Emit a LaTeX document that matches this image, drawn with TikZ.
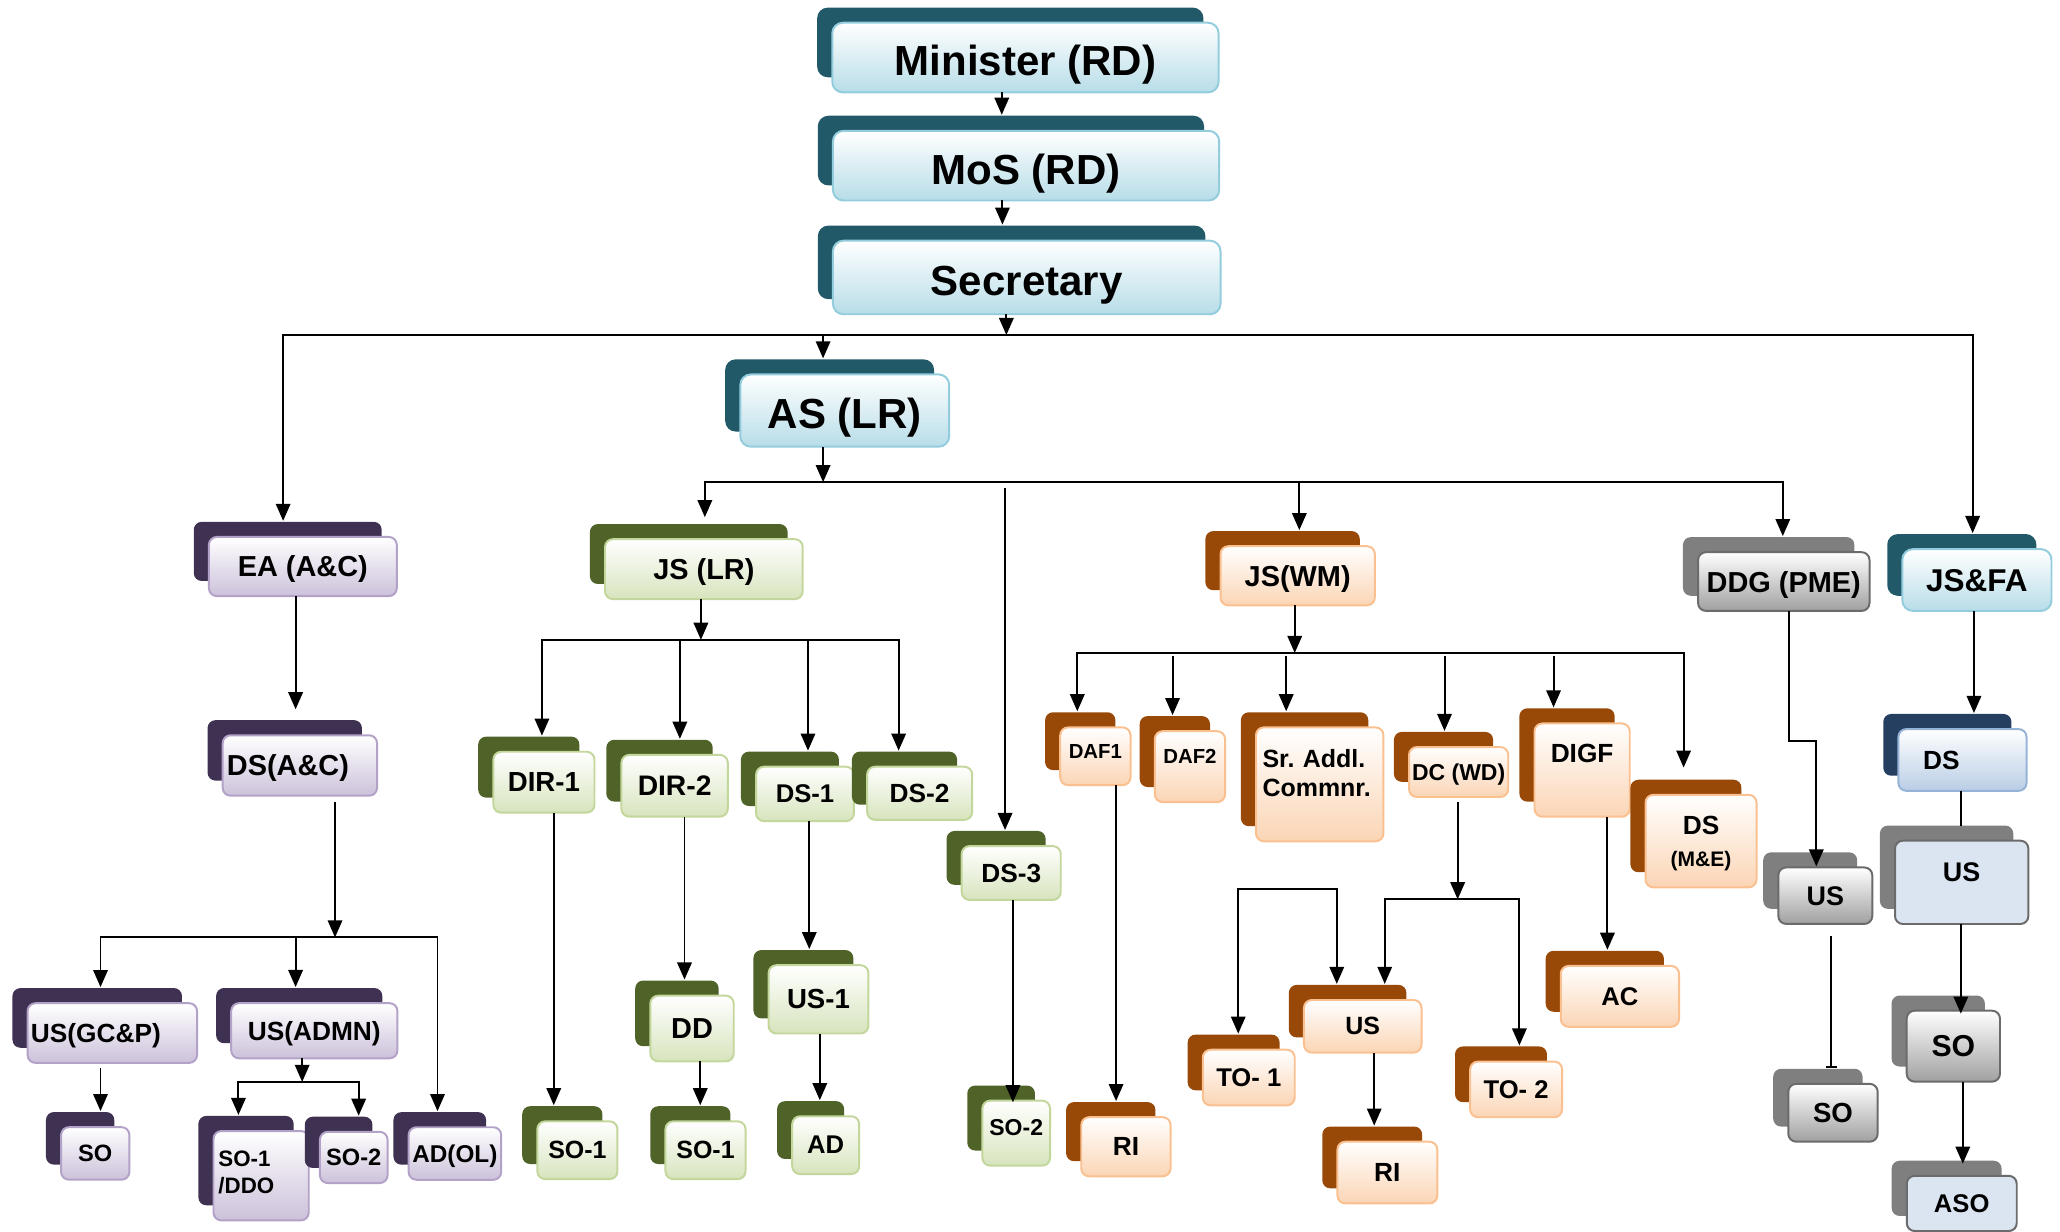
\documentclass[tikz,border=0pt]{standalone}
\usepackage{fontspec}
\setmainfont{Liberation Sans}
\usepackage{tikz}
\usetikzlibrary{arrows.meta,shadows}
\definecolor{tealback}{HTML}{215968}
\definecolor{tealfill}{HTML}{B7DDE8}
\definecolor{tealline}{HTML}{93CDDD}
\definecolor{purpback}{HTML}{3F3151}
\definecolor{purpfill}{HTML}{CCC1DA}
\definecolor{purpline}{HTML}{B3A2C7}
\definecolor{grnback}{HTML}{4F6228}
\definecolor{grnfill}{HTML}{D7E4BD}
\definecolor{grnline}{HTML}{C3D69B}
\definecolor{orgback}{HTML}{984807}
\definecolor{orgfill}{HTML}{FBD5B5}
\definecolor{orgline}{HTML}{FAC090}
\definecolor{gryback}{HTML}{7F7F7F}
\definecolor{gryfill}{HTML}{A0A0A0}
\definecolor{gryline}{HTML}{6B6B6B}
\definecolor{navyback}{HTML}{243F60}
\definecolor{navyfill}{HTML}{B9CDE5}
\definecolor{navyline}{HTML}{95B3D7}
\definecolor{palefill}{HTML}{DBE5F1}
\tikzstyle{cardbox} = [rounded corners=6pt,line width=1.5pt,inner sep=1pt,align=center,text depth=0pt]
\tikzstyle{tealbox} = [cardbox,rounded corners=8pt,draw=tealline,top color=white,bottom color=tealfill,copy shadow={shadow xshift=-11.5pt,shadow yshift=11.5pt,fill=tealback,draw=none}]
\tikzstyle{purpbox} = [cardbox,draw=purpline,top color=white,bottom color=purpfill,copy shadow={shadow xshift=-11.5pt,shadow yshift=11.5pt,fill=purpback,draw=none}]
\tikzstyle{grnbox} = [cardbox,draw=grnline,top color=white,bottom color=grnfill,copy shadow={shadow xshift=-11.5pt,shadow yshift=11.5pt,fill=grnback,draw=none}]
\tikzstyle{orgbox} = [cardbox,draw=orgline,top color=white,bottom color=orgfill,copy shadow={shadow xshift=-11.5pt,shadow yshift=11.5pt,fill=orgback,draw=none}]
\tikzstyle{grybox} = [cardbox,draw=gryline,top color=white,bottom color=gryfill,copy shadow={shadow xshift=-11.5pt,shadow yshift=11.5pt,fill=gryback,draw=none}]
\tikzstyle{navybox} = [cardbox,draw=navyline,top color=white,bottom color=navyfill,copy shadow={shadow xshift=-11.5pt,shadow yshift=11.5pt,fill=navyback,draw=none}]
\tikzstyle{palebox} = [cardbox,draw=gryline,fill=palefill,copy shadow={shadow xshift=-11.5pt,shadow yshift=11.5pt,fill=gryback,draw=none}]
\begin{document}
\begin{tikzpicture}[x=1pt,y=-1pt,
    fs/.style={font=\bfseries\fontsize{#1}{#1}\selectfont},
    sz/.style 2 args={minimum width=#1pt,minimum height=#2pt},
    wire/.style={line width=1.5pt,line cap=rect},
    arr/.style={wire,-{Triangle[length=13pt,width=11pt]}},
    post/.style={arr,shorten >=11.5pt}]
    \useasboundingbox (0,0) rectangle (1568,937.75);

    \node[tealbox,fs=32,sz={294}{53},text height=28pt] (min) at (780.5,43.8) {Minister (RD)};
    \node[tealbox,fs=32,sz={294}{53},text height=28pt] (mos) at (781,126.1) {MoS (RD)};
    \node[tealbox,fs=32,sz={295}{56},text height=28pt] (sec) at (781.5,211.2) {Secretary};
    \node[tealbox,fs=32,sz={159}{55},text height=28pt] (as) at (643,312.5) {AS (LR)};

    \node[purpbox,fs=22,sz={143}{45}] (ea) at (230.5,431.2) {EA (A\&C)};
    \node[grnbox,fs=22,sz={150.5}{45.6}] (jslr) at (535.75,433.2) {JS (LR)};
    \node[orgbox,fs=22,sz={117.5}{45}] (jswm) at (987.75,438.25) {JS(WM)};
    \node[grybox,fs=22,sz={130.5}{44.7},inner xsep=0pt] (ddg) at (1357.75,442.65) {DDG (PME)};
    \node[tealbox,fs=24,sz={113.5}{47}] (jsfa) at (1504.75,441.5) {JS\&FA};

    \node[purpbox,fs=22,sz={117.5}{46},text width=111pt,align=left] (dsac) at (228.25,582.65) {DS(A\&C)};
    \node[purpbox,fs=20,sz={129}{45.4},text width=124pt,align=left] (usgcp) at (85.5,786.3) {US(GC\&P)};
    \node[purpbox,fs=20,sz={126.5}{42}] (usadmn) at (239.25,784.55) {US(ADMN)};
    \node[purpbox,fs=18,sz={52}{40}] (soa) at (72.5,877.95) {SO};
    \node[purpbox,fs=17,sz={72.5}{68},text width=65pt,align=left,text depth=26.5pt] (soddo) at (198.75,894.9) {SO-1\\[4pt]/DDO};
    \node[purpbox,fs=18,sz={51.5}{39},inner xsep=0pt] (sob) at (269.25,881) {SO-2};
    \node[purpbox,fs=18.5,sz={70.5}{40},inner xsep=0pt] (adol) at (346.25,878) {AD(OL)};

    \node[grnbox,fs=21,sz={77}{46.4}] (dir1) at (414,595.4) {DIR-1};
    \node[grnbox,fs=21.5,sz={81}{47}] (dir2) at (513.5,598.1) {DIR-2};
    \node[grnbox,fs=19.5,sz={74.5}{41.4}] (ds1) at (612.75,604.3) {DS-1};
    \node[grnbox,fs=20,sz={80}{40.4}] (ds2) at (700,603.8) {DS-2};
    \node[grnbox,fs=20,sz={75.4}{41}] (ds3) at (769.7,664.5) {DS-3};
    \node[grnbox,fs=22,sz={63.5}{50}] (dd) at (526.75,782.85) {DD};
    \node[grnbox,fs=21,sz={76}{52}] (us1) at (623,760.65) {US-1};
    \node[grnbox,fs=19,sz={61}{44}] (so1a) at (439.5,875.5) {SO-1};
    \node[grnbox,fs=19,sz={61}{44}] (so1b) at (537,875.5) {SO-1};
    \node[grnbox,fs=19.5,sz={51}{44}] (ad) at (628.5,871.65) {AD};
    \node[grnbox,fs=17.5,sz={51.5}{49.5},inner xsep=0pt,text depth=8pt] (so2) at (773.5,862.5) {SO-2};

    \node[orgbox,fs=15.5,sz={53.5}{44},inner xsep=0pt,text depth=7pt] (daf1) at (833.75,575.65) {DAF1};
    \node[orgbox,fs=15.5,sz={53.5}{54},inner xsep=0pt,text depth=15.5pt] (daf2) at (905.75,583.55) {DAF2};
    \node[orgbox,fs=19,sz={97}{86.7},text width=87pt,align=left,text depth=40pt] (sradl) at (1004.5,597) {Sr.\ Addl.\\[3pt]Commnr.};
    \node[orgbox,fs=17.5,sz={75.5}{38},inner xsep=0pt] (dcwd) at (1110.25,587.6) {DC (WD)};
    \node[orgbox,fs=20,sz={72.5}{71},text depth=25pt] (digf) at (1204.25,586.15) {DIGF};
    \node[orgbox,fs=20,sz={84.5}{70.4}] (dsme) at (1294.75,640.2) {DS\\[4pt]{\fontsize{16}{16}\selectfont(M\&E)}};
    \node[orgbox,fs=20,sz={68}{45}] (ria) at (857,872.85) {RI};
    \node[orgbox,fs=19,sz={89.5}{40}] (usw) at (1037.25,781.15) {US};
    \node[orgbox,fs=19.5,sz={70}{42.4}] (to1) at (950.5,820.2) {TO- 1};
    \node[orgbox,fs=19.5,sz={70}{42.4}] (to2) at (1154,829.2) {TO- 2};
    \node[orgbox,fs=20,sz={76}{47}] (rib) at (1056,892.5) {RI};
    \node[orgbox,fs=19.5,sz={90}{46.4}] (ac) at (1233,758.4) {AC};

    \node[grybox,fs=20.5,sz={71.5}{43}] (usg) at (1389.35,681.75) {US};
    \node[grybox,fs=21,sz={68}{44}] (sog1) at (1395.2,847) {SO};
    \node[navybox,fs=20,sz={97.5}{47},text width=60pt,align=left] (dsn) at (1493.75,578.45) {DS};
    \node[palebox,fs=20.5,sz={101.5}{63.4},text depth=16pt] (usb) at (1493.15,671.6) {US};
    \node[grybox,fs=23,sz={71}{54}] (sog2) at (1486.8,796.3) {SO};
    \node[palebox,fs=19.5,sz={83.7}{42}] (aso) at (1493.2,916) {ASO};

    \coordinate (s0) at (766,255);
    \coordinate (sL) at (215.5,255);
    \coordinate (sA) at (626.5,255);
    \coordinate (sR) at (1501.5,255);
    \draw[post] ([xshift=-18pt]min.south) -- ([xshift=-18.5pt]mos.north);
    \draw[post] ([xshift=-18pt]mos.south) -- ([xshift=-18.5pt]sec.north);
    \draw[arr] (sec.south -| s0) -- (s0);
    \draw[wire] (sL) -- (sR);
    \draw[post] (sL) -- (sL |- ea.north);
    \draw[post] (sA) -- (sA |- as.north);
    \draw[post] (sR) -- (sR |- jsfa.north);

    \coordinate (a0) at (626.5,367);
    \coordinate (aL) at (536.5,367);
    \coordinate (a3) at (765,372);
    \coordinate (aW) at (989,367);
    \coordinate (aR) at (1357,367);
    \draw[arr] (as.south -| a0) -- (a0);
    \draw[wire] (aL) -- (aR);
    \draw[post,shorten >=16pt] (aL) -- (aL |- jslr.north);
    \draw[post] (a3) -- (a3 |- ds3.north);
    \draw[post] (aW) -- (aW |- jswm.north);
    \draw[post] (aR) -- (aR |- ddg.north);

    \coordinate (j0) at (533.5,487);
    \coordinate (jL) at (412.5,487);
    \coordinate (j2) at (517.5,487);
    \coordinate (j3) at (615,487);
    \coordinate (jR) at (684,487);
    \draw[arr] (jslr.south -| j0) -- (j0);
    \draw[wire] (jL) -- (jR);
    \draw[post] (jL) -- (jL |- dir1.north);
    \draw[post] (j2) -- (j2 |- dir2.north);
    \draw[post] (j3) -- (j3 |- ds1.north);
    \draw[post] (jR) -- (jR |- ds2.north);

    \draw[post,shorten >=19pt] ([xshift=-5.5pt]ea.south) -- ([xshift=-3.25pt]dsac.north);
    \coordinate (d0) at (255,713.5);
    \coordinate (dL) at (76.5,713.5);
    \coordinate (d2) at (225,713.5);
    \coordinate (dR) at (333,713.5);
    \draw[arr,shorten <=5pt] (dsac.south -| d0) -- (d0);
    \draw[wire] (dL) -- (dR);
    \draw[post] (dL) -- (dL |- usgcp.north);
    \draw[post] (d2) -- (d2 |- usadmn.north);
    \draw[post] (dR) -- (dR |- adol.north);
    \draw[post,shorten <=4pt] ([xshift=-9pt]usgcp.south) -- ([xshift=4pt]soa.north);
    \coordinate (u0) at (230,823.5);
    \coordinate (uL) at (181.5,823.5);
    \coordinate (uR) at (273,823.5);
    \draw[arr] (usadmn.south -| u0) -- (u0);
    \draw[wire] (uL) -- (uR);
    \draw[post] (uL) -- (uL |- soddo.north);
    \draw[post] (uR) -- (uR |- sob.north);

    \draw[post] ([xshift=7.5pt]dir1.south) -- ([xshift=-18pt]so1a.north);
    \draw[post] ([xshift=7.5pt]dir2.south) -- ([xshift=-5.75pt]dd.north);
    \draw[post] ([xshift=6.25pt]dd.south) -- ([xshift=-4pt]so1b.north);
    \draw[post] ([xshift=3.25pt]ds1.south) -- ([xshift=-7pt]us1.north);
    \draw[post] ([xshift=1pt]us1.south) -- ([xshift=-4.5pt]ad.north);
    \draw[arr,shorten >=-2pt] ([xshift=1.3pt]ds3.south) -- ([xshift=-2.5pt]so2.north);

    \coordinate (w0) at (985.5,497);
    \coordinate (wL) at (820,497);
    \coordinate (w2) at (892.5,500);
    \coordinate (w3) at (979,500);
    \coordinate (w4) at (1099.5,500);
    \coordinate (w5) at (1182.5,500);
    \coordinate (wR) at (1281.5,497);
    \draw[arr] (jswm.south -| w0) -- (w0);
    \draw[wire] (wL) -- (wR);
    \draw[post] (wL) -- (wL |- daf1.north);
    \draw[post] (w2) -- (w2 |- daf2.north);
    \draw[post] (w3) -- (w3 |- sradl.north);
    \draw[post] (w4) -- (w4 |- dcwd.north);
    \draw[post] (w5) -- (w5 |- digf.north);
    \draw[post,shorten >=20pt] (wR) -- (wR |- dsme.north);
    \draw[post] ([xshift=15.75pt]daf1.south) -- ([xshift=-7.5pt]ria.north);
    \coordinate (c0) at (1109.5,684.5);
    \coordinate (cL) at (1054,684.5);
    \coordinate (cR) at (1156.5,684.5);
    \draw[arr,shorten <=4pt] (dcwd.south -| c0) -- (c0);
    \draw[wire] (cL) -- (cR);
    \draw[post] (cL) -- (cL |- usw.north);
    \draw[post] (cR) -- (cR |- to2.north);
    \coordinate (tL) at (942.5,676.3);
    \coordinate (tR) at (1017.5,676.3);
    \draw[wire] (tL) -- (tR);
    \draw[post] (tL) -- (tL |- to1.north);
    \draw[post] (tR) -- (tR |- usw.north);
    \draw[post] ([xshift=8.75pt]usw.south) -- ([xshift=-10pt]rib.north);
    \draw[post] ([xshift=19.25pt]digf.south) -- ([xshift=-9.5pt]ac.north);

    \coordinate (g1) at (1361.5,564);
    \coordinate (g2) at (1382.5,564);
    \draw[arr] (ddg.south -| g1) -- (g1) -- (g2) -- (g2 |- usg.north);
    \draw[wire,-{Bar[width=8pt]},shorten <=9pt,shorten >=11.5pt] ([xshift=4.65pt]usg.south) -- ([xshift=-1.2pt]sog1.north);
    \draw[post] ([xshift=-2.25pt]jsfa.south) -- ([xshift=8.75pt]dsn.north);
    \draw[wire,shorten >=11.5pt] ([xshift=-1.25pt]dsn.south) -- ([xshift=-0.65pt]usb.north);
    \draw[arr,shorten >=-3pt] ([xshift=-0.65pt]usb.south) -- ([xshift=5.7pt]sog2.north);
    \draw[post,shorten >=8.5pt] ([xshift=7.2pt]sog2.south) -- ([xshift=0.8pt]aso.north);
\end{tikzpicture}
\end{document}
